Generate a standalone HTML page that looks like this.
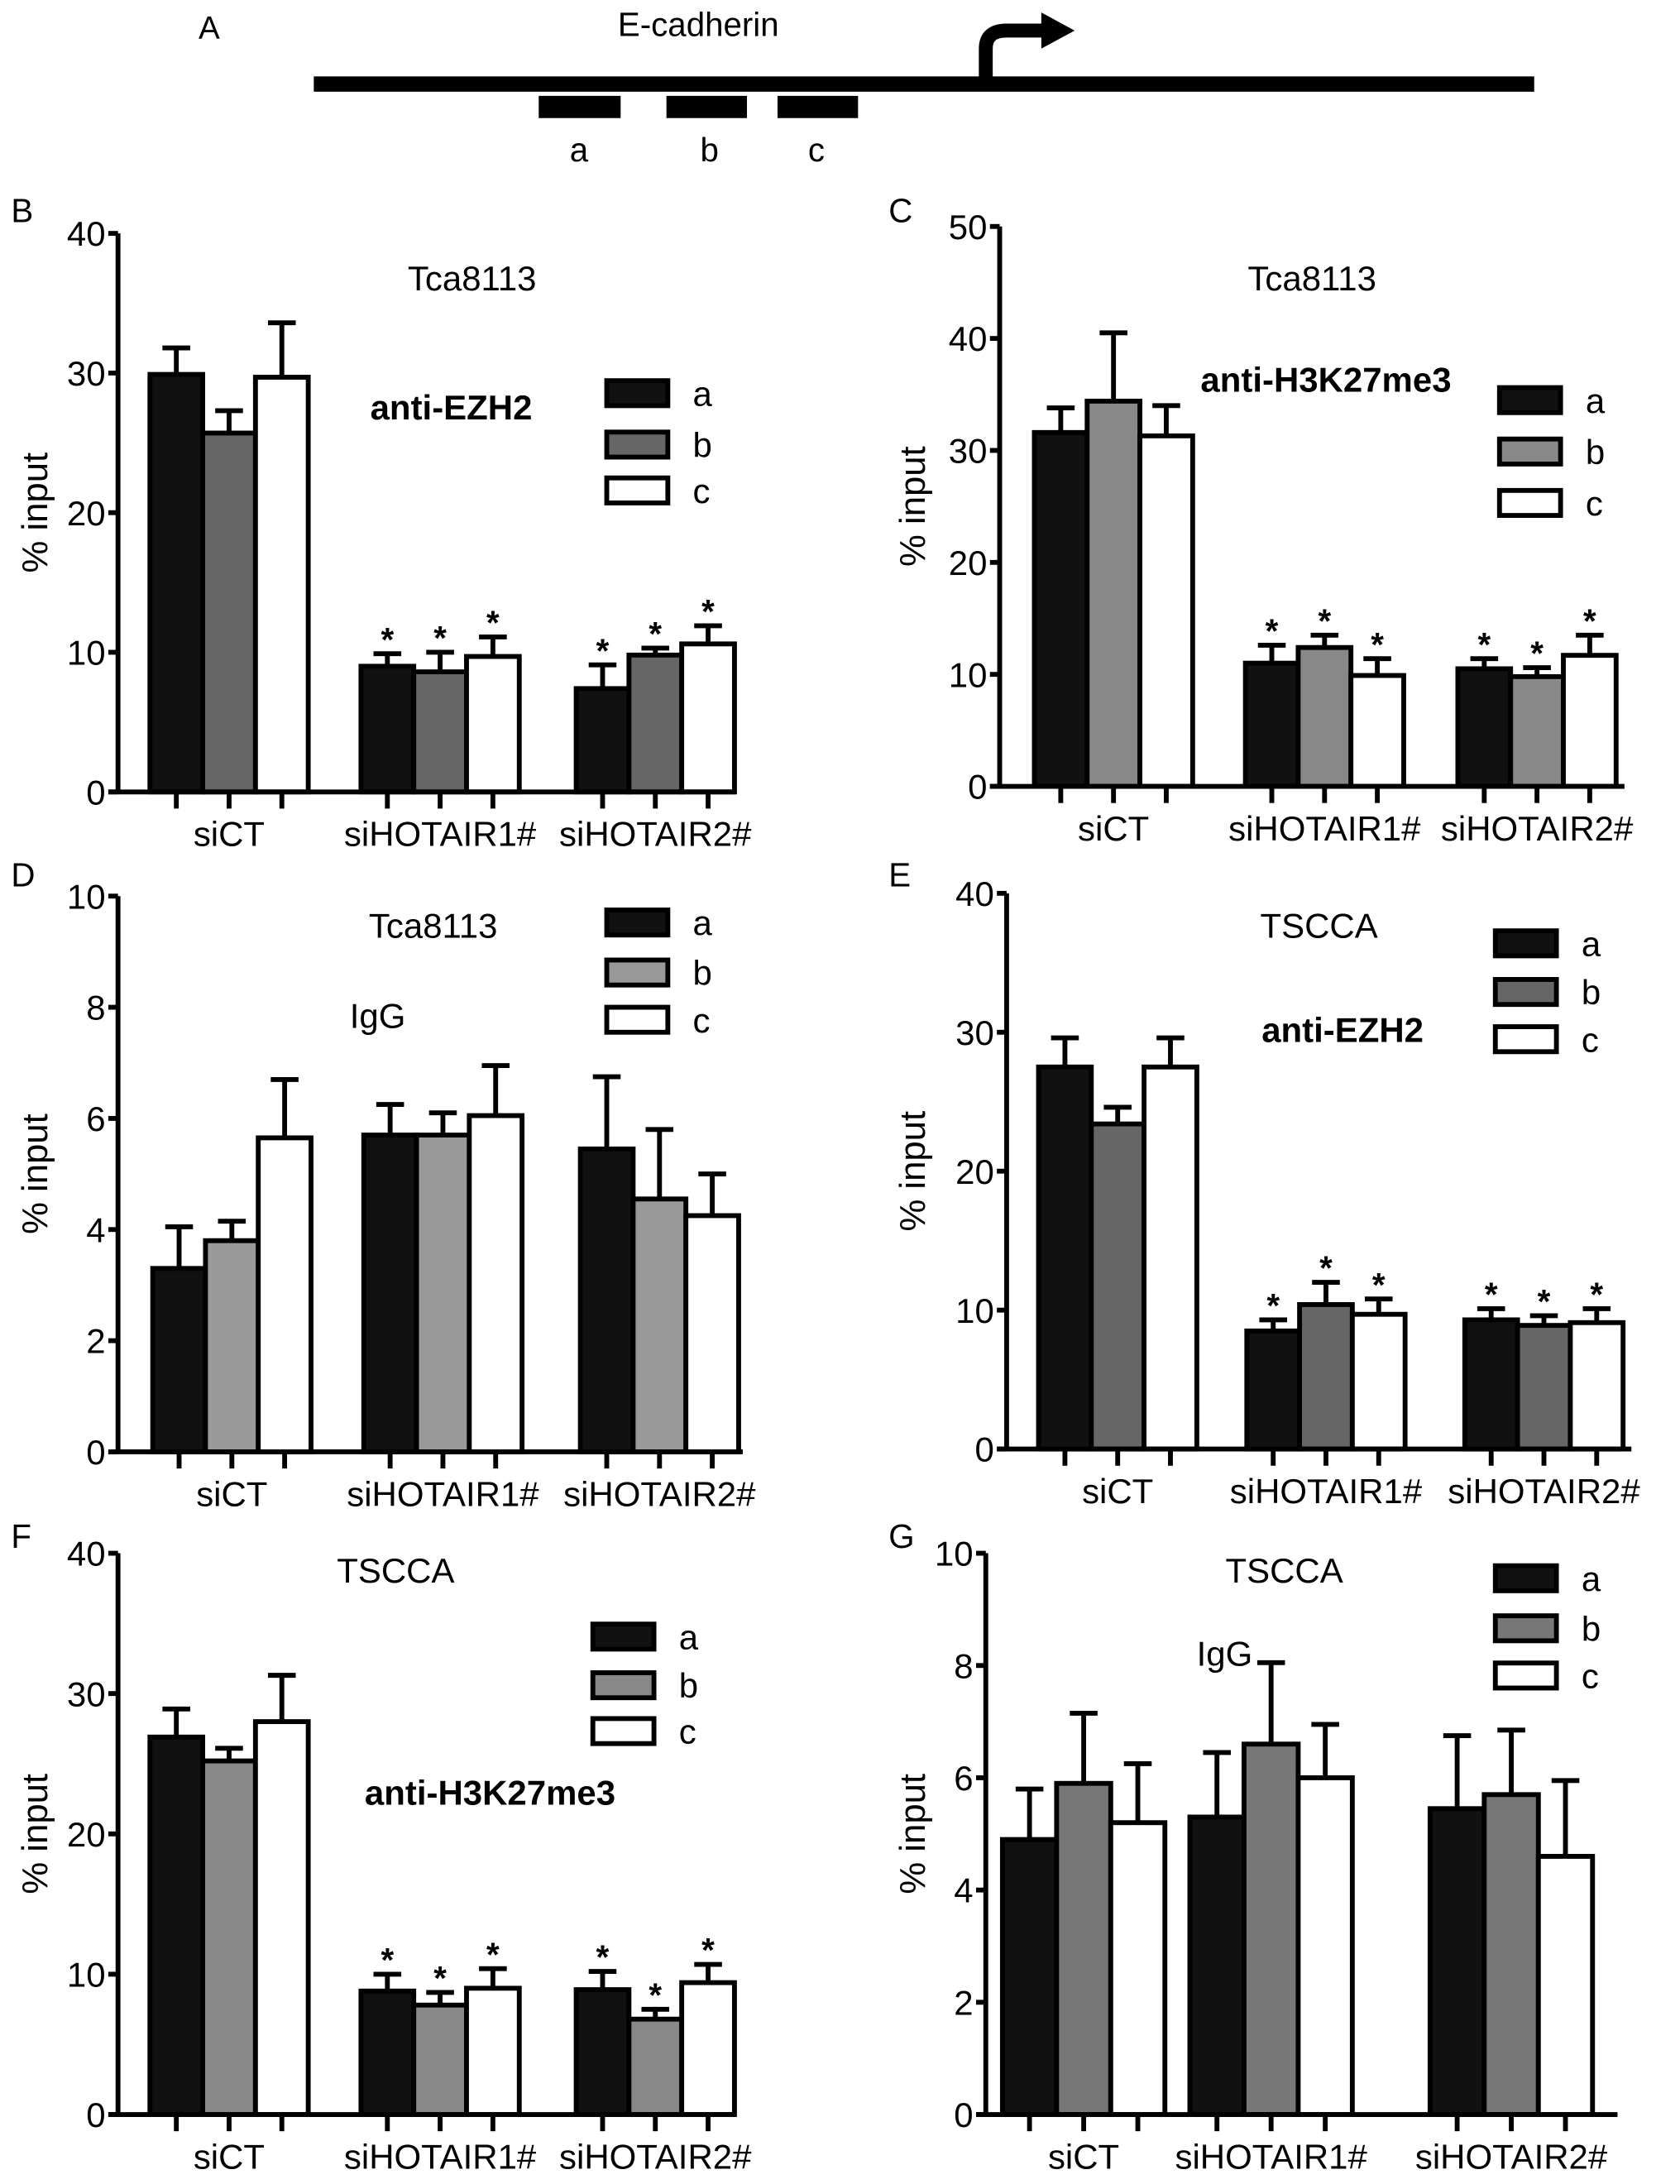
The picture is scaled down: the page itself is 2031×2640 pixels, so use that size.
<!DOCTYPE html>
<html><head><meta charset="utf-8"><style>
html,body{margin:0;padding:0;background:#fff;}
svg{display:block;font-family:"Liberation Sans",Arial,sans-serif;}
</style></head><body>
<svg id="fig" width="2031" height="2640" viewBox="0 0 1210 1572" preserveAspectRatio="none">
<g>
<text x="143" y="28" font-size="23">A</text>
<text x="503" y="26" font-size="24" text-anchor="middle">E-cadherin</text>
<rect x="226" y="55" width="879" height="11" fill="#000"/>
<path d="M710 57 L710 35 Q710 22 725 22 L752 22" fill="none" stroke="#000" stroke-width="10"/>
<polygon points="750,9 774,22 750,35" fill="#000"/>
<rect x="388" y="69" width="59" height="16" fill="#000"/>
<rect x="480" y="69" width="58" height="16" fill="#000"/>
<rect x="560" y="69" width="58" height="16" fill="#000"/>
<text x="417" y="116" font-size="24" text-anchor="middle">a</text>
<text x="511" y="116" font-size="24" text-anchor="middle">b</text>
<text x="588" y="116" font-size="24" text-anchor="middle">c</text>
</g>
</svg>
<script>
const groups = ["siCT","siHOTAIR1#","siHOTAIR2#"];
const series = ["a","b","c"];
const bA = [29.9, 9.0, 7.4], bAe = [31.8, 9.9, 9.1];
const bB = [25.7, 8.6, 9.8], bBe = [27.3, 10.0, 10.3];
const bC = [29.7, 9.7, 10.6], bCe = [33.6, 11.1, 11.9];
const cA = [31.6, 11.0, 10.5], cAe = [33.8, 12.6, 11.4];
const cB = [34.4, 12.4, 9.8], cBe = [40.5, 13.5, 10.6];
const cC = [31.3, 9.9, 11.7], cCe = [34.0, 11.4, 13.5];
const dA = [3.3, 5.7, 5.45], dAe = [4.05, 6.25, 6.75];
const dB = [3.8, 5.7, 4.55], dBe = [4.15, 6.1, 5.8];
const dC = [5.65, 6.05, 4.25], dCe = [6.7, 6.95, 5.0];
const eA = [27.5, 8.5, 9.3], eAe = [29.6, 9.3, 10.1];
const eB = [23.4, 10.4, 8.9], eBe = [24.6, 12.0, 9.6];
const eC = [27.5, 9.7, 9.1], eCe = [29.6, 10.8, 10.1];
const fA = [26.9, 8.8, 8.9], fAe = [28.9, 10.0, 10.2];
const fB = [25.2, 7.8, 6.8], fBe = [26.1, 8.7, 7.5];
const fC = [28.0, 9.0, 9.4], fCe = [31.3, 10.4, 10.7];
const gA = [4.9, 5.3, 5.45], gAe = [5.8, 6.45, 6.75];
const gB = [5.9, 6.6, 5.7], gBe = [7.15, 8.05, 6.85];
const gC = [5.2, 6.0, 4.6], gCe = [6.25, 6.95, 5.95];
const ticks10 = [0,2,4,6,8,10], ticks40 = [0,10,20,30,40], ticks50 = [0,10,20,30,40,50];

const NS="http://www.w3.org/2000/svg";
const svg=document.getElementById('fig');
function el(tag,attrs,parent,text){const e=document.createElementNS(NS,tag);for(const k in attrs)e.setAttribute(k,attrs[k]);if(text!==undefined)e.textContent=text;(parent||svg).appendChild(e);return e;}

const panels=[
 {id:'b',letter:'B',lx:8,ly:160,ax:85,yt:168,yb:570,max:40,ticks:ticks40,xend:530,gx:[108,260,415],bw:38,gray:'#666',
  vals:[bA,bB,bC],errs:[bAe,bBe,bCe],star:true,title:'Tca8113',tx:340,ty:209,sub:'anti-EZH2',sx:325,sy:302,bold:true,legx:437,legy:[283,320,353]},
 {id:'c',letter:'C',lx:640,ly:160,ax:720,yt:163,yb:566,max:50,ticks:ticks50,xend:1170,gx:[745,897,1050],bw:38,gray:'#888',
  vals:[cA,cB,cC],errs:[cAe,cBe,cCe],star:true,title:'Tca8113',tx:945,ty:209,sub:'anti-H3K27me3',sx:955,sy:282,bold:true,legx:1080,legy:[288,325,362]},
 {id:'d',letter:'D',lx:8,ly:638,ax:85,yt:645,yb:1045,max:10,ticks:ticks10,xend:535,gx:[110,262,418],bw:38,gray:'#999',
  vals:[dA,dB,dC],errs:[dAe,dBe,dCe],star:false,title:'Tca8113',tx:312,ty:675,sub:'IgG',sx:272,sy:740,bold:false,legx:437,legy:[664,700,734]},
 {id:'e',letter:'E',lx:640,ly:638,ax:725,yt:643,yb:1043,max:40,ticks:ticks40,xend:1175,gx:[748,898,1055],bw:38,gray:'#666',
  vals:[eA,eB,eC],errs:[eAe,eBe,eCe],star:true,title:'TSCCA',tx:950,ty:675,sub:'anti-EZH2',sx:967,sy:750,bold:true,legx:1077,legy:[679,714,748]},
 {id:'f',letter:'F',lx:8,ly:1114,ax:85,yt:1118,yb:1522,max:40,ticks:ticks40,xend:530,gx:[108,260,415],bw:38,gray:'#888',
  vals:[fA,fB,fC],errs:[fAe,fBe,fCe],star:true,title:'TSCCA',tx:285,ty:1139,sub:'anti-H3K27me3',sx:353,sy:1299,bold:true,legx:427,legy:[1178,1213,1246]},
 {id:'g',letter:'G',lx:640,ly:1114,ax:710,yt:1118,yb:1522,max:10,ticks:ticks10,xend:1165,gx:[722,857,1030],bw:39,gray:'#777',
  vals:[gA,gB,gC],errs:[gAe,gBe,gCe],star:false,title:'TSCCA',tx:925,ty:1139,sub:'IgG',sx:882,sy:1199,bold:false,legx:1077,legy:[1136,1172,1206]}
];

panels.forEach(p=>{
 const g=el('g',{});
 
 
 const y=v=>p.yb-(v/p.max)*(p.yb-p.yt);
 const fills=['#111',p.gray,'#fff'];
 const t1=el('text',{x:p.lx,y:p.ly,'font-size':24},g,p.letter);
 
 
 for(let gi=0;gi<3;gi++){
  for(let s=0;s<3;s++){
   const x=p.gx[gi]+s*p.bw, v=p.vals[s][gi], e=p.errs[s][gi], cx=x+p.bw/2;
   const ln=el('line',{x1:cx,x2:cx,y1:y(v),y2:y(e),stroke:'#000','stroke-width':3.5},g);
   
   
   const cap=el('line',{x1:cx-10,x2:cx+10,y1:y(e),y2:y(e),stroke:'#000','stroke-width':3.5},g);
   
   
   const r=el('rect',{x:x,y:y(v),width:p.bw,height:p.yb-y(v),fill:fills[s],stroke:'#000','stroke-width':3.5},g);
   
   
   const tk=el('line',{x1:cx,x2:cx,y1:p.yb,y2:p.yb+12,stroke:'#000','stroke-width':3.5},g);
   
   
   if(p.star&&gi>0){
    const st=el('text',{x:cx,y:y(e)-2,'font-size':24,'text-anchor':'middle','font-weight':'bold'},g,'*');
    
    
   }
  }
  const gl=el('text',{x:p.gx[gi]+1.5*p.bw,y:p.yb+39,'font-size':25,'text-anchor':'middle'},g,groups[gi]);
  
  
 }
 const ya=el('line',{x1:p.ax,x2:p.ax,y1:p.yt,y2:p.yb+1.5,stroke:'#000','stroke-width':3.5},g);
 
 
 const xa=el('line',{x1:p.ax-7,x2:p.xend,y1:p.yb,y2:p.yb,stroke:'#000','stroke-width':3.5},g);
 
 
 p.ticks.forEach(t=>{
  const tl=el('line',{x1:p.ax-7,x2:p.ax,y1:y(t),y2:y(t),stroke:'#000','stroke-width':3.5},g);
  
  
  const tt=el('text',{x:p.ax-9,y:y(t)+9,'font-size':25,'text-anchor':'end'},g,String(t));
  
  
 });
 const yl=el('text',{x:0,y:0,'font-size':26,'text-anchor':'middle',transform:`translate(${p.lx+26},${(p.yt+p.yb)/2}) rotate(-90)`},g,'% input');
 
 
 const ti=el('text',{x:p.tx,y:p.ty,'font-size':25,'text-anchor':'middle'},g,p.title);
 
 
 const su=el('text',{x:p.sx,y:p.sy,'font-size':25,'text-anchor':'middle','font-weight':p.bold?'bold':'normal'},g,p.sub);
 
 
 for(let s=0;s<3;s++){
  const lr=el('rect',{x:p.legx,y:p.legy[s]-9,width:44,height:18,fill:fills[s],stroke:'#000','stroke-width':3.5},g);
  
  
  const lt=el('text',{x:p.legx+62,y:p.legy[s]+9,'font-size':25},g,series[s]);
  
  
 }
});
</script>
</body></html>
